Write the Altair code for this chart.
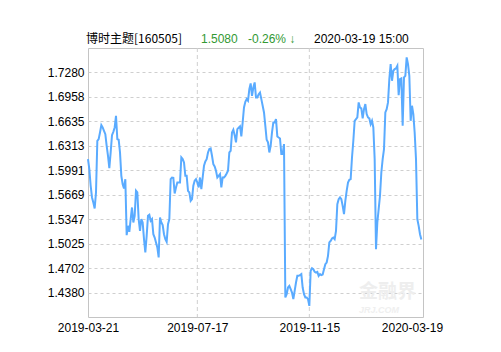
import altair as alt
import pandas as pd

# ---- data ----
fund_name = "博时主题[160505]"
last_nav = "1.5080"
last_change = "-0.26% ↓"
last_time = "2020-03-19 15:00"

nav = [
    1.6138, 1.6006, 1.5787, 1.5633, 1.5567, 1.5488, 1.5699, 1.6380, 1.6401, 1.6489,
    1.6586, 1.6555, 1.6511, 1.6467, 1.6314, 1.6182, 1.6019, 1.6226, 1.6454, 1.6498,
    1.6555, 1.6709, 1.6401, 1.6393, 1.6226, 1.5918, 1.5808, 1.5751, 1.5874, 1.5136,
    1.5259, 1.5180, 1.5347, 1.5501, 1.5303,
    1.5391, 1.5721, 1.5699, 1.5347, 1.5193, 1.5347, 1.5303, 1.5083, 1.4908, 1.5127,
    1.5391, 1.5404, 1.5325, 1.5347, 1.5149, 1.5105, 1.5040, 1.4974, 1.4842, 1.5369,
    1.5303, 1.5268, 1.5149, 1.5083, 1.5048, 1.5281, 1.5347, 1.5874, 1.5896, 1.5892,
    1.5685, 1.5765, 1.5830, 1.5830, 1.5830, 1.6160,
    1.6138, 1.6094, 1.5918, 1.5918, 1.5721, 1.5699, 1.5589, 1.5611, 1.5787, 1.5852,
    1.5874, 1.5830, 1.5765, 1.5896, 1.5743, 1.5896, 1.6050, 1.6107, 1.6138, 1.6226,
    1.6270, 1.6278, 1.6182, 1.6072, 1.6041, 1.5984, 1.5896, 1.5918, 1.5940, 1.5765,
    1.5896, 1.5896, 1.5918, 1.5949, 1.5984, 1.6226,
    1.6248, 1.6489, 1.6525, 1.6454, 1.6358, 1.6533, 1.6551, 1.6569, 1.6437, 1.6621,
    1.6819, 1.6893, 1.6928, 1.6907, 1.7060, 1.7135, 1.6972, 1.7082, 1.7148, 1.6950,
    1.6950, 1.6994, 1.7016, 1.6928, 1.6841, 1.6753, 1.6577, 1.6393, 1.6358, 1.6226,
    1.6314, 1.6489, 1.6621, 1.6621, 1.6665, 1.6437,
    1.6423, 1.6410, 1.6204, 1.6204, 1.6336, 1.4315, 1.4358, 1.4446, 1.4468, 1.4424,
    1.4380, 1.4293, 1.4402, 1.4512, 1.4600, 1.4600, 1.4609, 1.4622, 1.4446, 1.4358,
    1.4315, 1.4315, 1.4293, 1.4205, 1.4666, 1.4701, 1.4688, 1.4653, 1.4644, 1.4653,
    1.4600, 1.4622, 1.4609, 1.4618, 1.4688, 1.4754,
    1.4776, 1.4864, 1.5040, 1.5061, 1.5092, 1.5105, 1.5083, 1.5193, 1.5545, 1.5611,
    1.5633, 1.5611, 1.5523, 1.5413, 1.5589, 1.5721, 1.5830, 1.5866, 1.5874, 1.6160,
    1.6380, 1.6643, 1.6665, 1.6687, 1.6885, 1.6819, 1.6806, 1.6674, 1.6797, 1.6863,
    1.6731, 1.6687, 1.6674, 1.6599, 1.6643, 1.6555,
    1.6138, 1.4952, 1.5303, 1.5479, 1.5655, 1.5962, 1.6138, 1.6270, 1.6753, 1.6797,
    1.6885, 1.7192, 1.7390, 1.7170, 1.7302, 1.7324, 1.7333, 1.7368, 1.6981, 1.7192,
    1.7201, 1.6577, 1.7214, 1.7236, 1.7478, 1.7390, 1.7236, 1.6643, 1.6841, 1.6731,
    1.6489, 1.6138, 1.5347, 1.5259, 1.5149, 1.5080,
]

y_ticks = [1.4380, 1.4702, 1.5025, 1.5347, 1.5669, 1.5991, 1.6313, 1.6635, 1.6958, 1.7280]
y_domain = [1.4058, 1.7602]
x_tick_pos = [0, 82, 166, 243]
x_tick_labels = ["2019-03-21", "2019-07-17", "2019-11-15", "2020-03-19"]
x_grid_pos = [82, 166]
x_domain = [0, 251.25]

df = pd.DataFrame({"i": list(range(len(nav))), "nav": nav})
grid_df = pd.DataFrame({"i": x_grid_pos})

label_expr = " : ".join(
    f"datum.value == {p} ? '{t}'" for p, t in zip(x_tick_pos, x_tick_labels)
) + " : ''"

W, H = 335, 269
NUMFONT = "Liberation Sans"

x_enc = alt.X(
    "i:Q",
    scale=alt.Scale(domain=x_domain, nice=False, zero=False),
    axis=alt.Axis(
        values=x_tick_pos, labelExpr=label_expr, grid=False, domain=False,
        ticks=False, labelPadding=5, labelFlush=False, labelOverlap=False,
        labelFont=NUMFONT, labelFontSize=12, labelColor="#000000", title=None,
    ),
)
y_enc = alt.Y(
    "nav:Q",
    scale=alt.Scale(domain=y_domain, nice=False, zero=False),
    axis=alt.Axis(
        values=y_ticks, format=".4f", grid=True, gridDash=[3, 3],
        gridColor="#cfcfcf", gridWidth=1, domain=False, ticks=False,
        labelPadding=4, labelFont=NUMFONT, labelFontSize=12,
        labelColor="#000000", title=None, labelOverlap=False,
    ),
)

vgrid = alt.Chart(grid_df).mark_rule(
    color="#cfcfcf", strokeDash=[4, 3], strokeWidth=1
).encode(x=alt.X("i:Q", scale=alt.Scale(domain=x_domain, nice=False, zero=False)))

line = alt.Chart(df).mark_line(
    color="#5aabff", strokeWidth=2
).encode(x=x_enc, y=y_enc)

def text_layer(txt, x, y, color, size=12, font=NUMFONT, weight="normal",
               style="normal", align="left"):
    return alt.Chart(pd.DataFrame({"t": [txt]})).mark_text(
        align=align, baseline="middle", font=font, fontSize=size,
        color=color, fontWeight=weight, fontStyle=style,
    ).encode(text="t:N", x=alt.value(x), y=alt.value(y))

wm1 = text_layer("金融界", 271, 244, "#eeeeee", size=19,
                 font="Noto Sans CJK SC", weight="bold")
wm2 = text_layer("JRJ.COM", 271, 262, "#efefef", size=9, weight="bold",
                 style="italic")

t1 = text_layer(fund_name, -2, -9, "#000000", font="Noto Sans CJK SC")
t2 = text_layer(last_nav, 113, -9, "#339933")
t3 = text_layer(last_change, 160, -9, "#339933")
t4 = text_layer(last_time, 226, -9, "#000000")

chart = alt.layer(wm1, wm2, vgrid, line, t1, t2, t3, t4).properties(
    width=W, height=H,
    autosize=alt.AutoSizeParams(type="none"),
    padding={"left": 88, "top": 48, "right": 501 - 88 - W, "bottom": 352 - 48 - H},
    background="#ffffff",
).configure_view(
    stroke="#c4c4c4", strokeWidth=1
)

chart.save("out.html", embed_options={"renderer": "svg", "actions": False})
